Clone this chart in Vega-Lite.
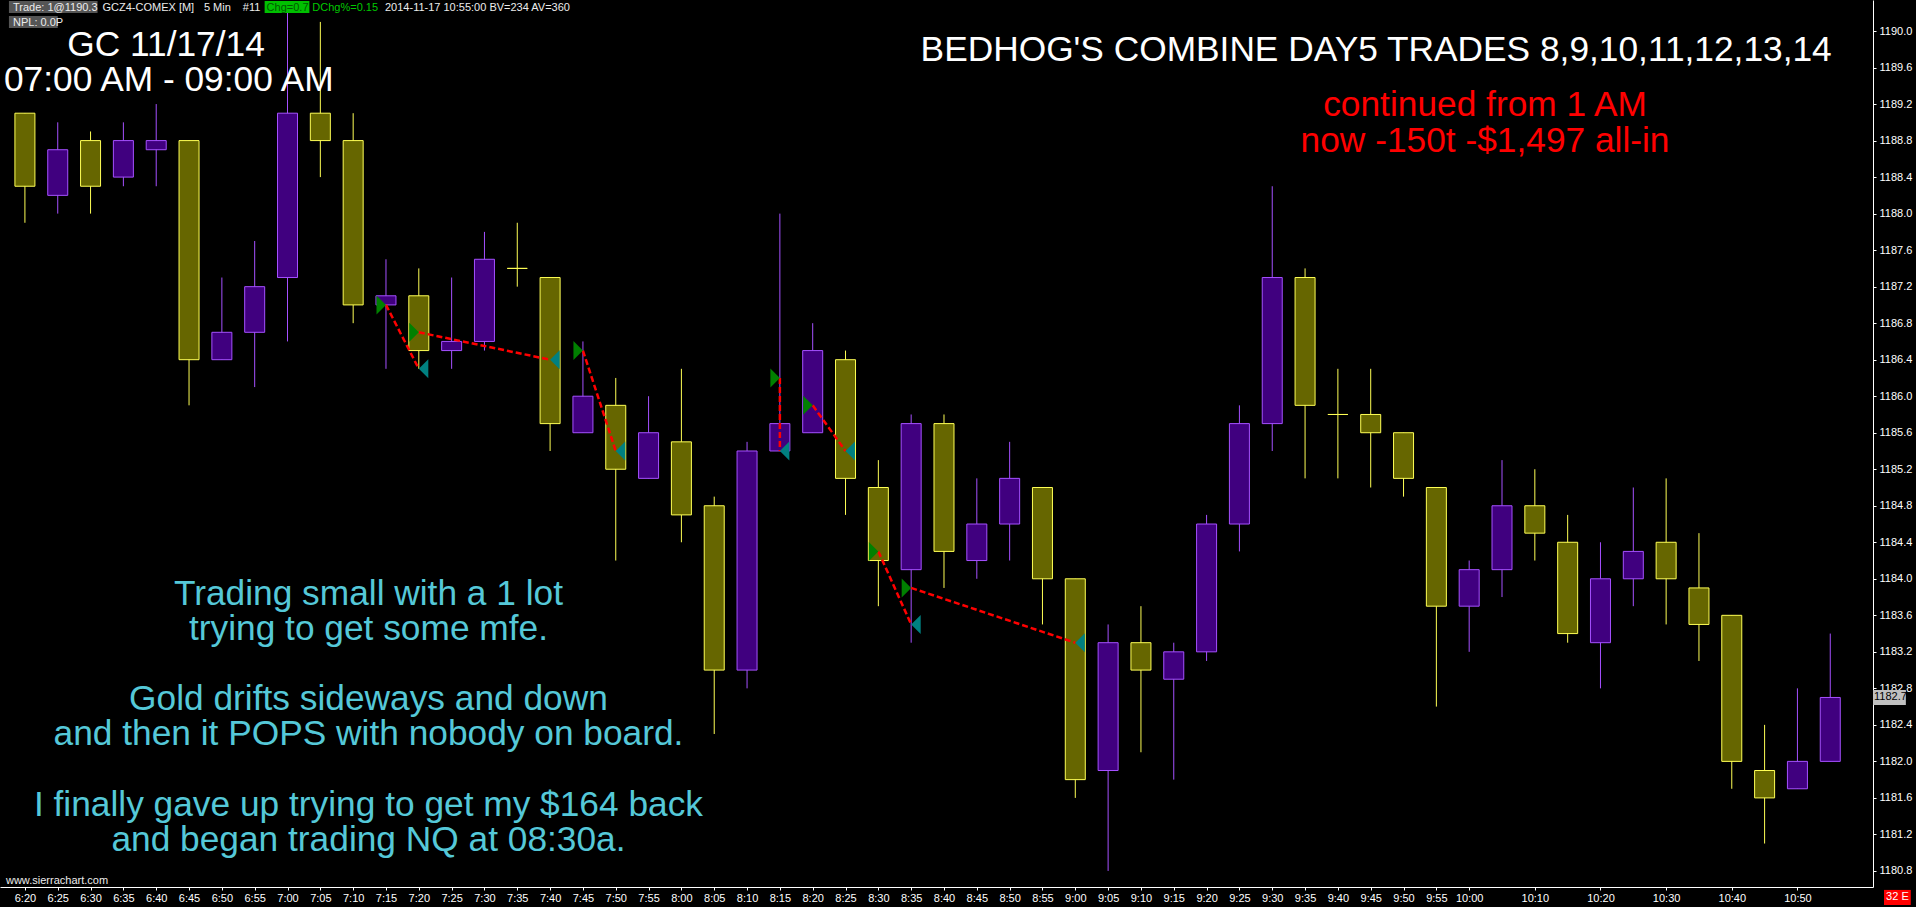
{
  "$schema": "https://vega.github.io/schema/vega-lite/v6.json",
  "width": 1873,
  "height": 887,
  "autosize": {"type": "none"},
  "padding": {"left": 0, "top": 0, "right": 43, "bottom": 20},
  "background": "#000000",
  "config": {
    "view": {"stroke": null},
    "axis": {"grid": false, "labelFont": "Liberation Sans", "labelColor": "#ffffff", "tickColor": "#ffffff", "domainColor": "#ffffff"},
    "text": {"font": "Liberation Sans"}
  },
  "datasets": {
    "candles": [
      {"t": "2014-11-17T06:20:00", "o": 1189.1, "h": 1189.1, "l": 1187.9, "c": 1188.3},
      {"t": "2014-11-17T06:25:00", "o": 1188.2, "h": 1189.0, "l": 1188.0, "c": 1188.7},
      {"t": "2014-11-17T06:30:00", "o": 1188.8, "h": 1188.9, "l": 1188.0, "c": 1188.3},
      {"t": "2014-11-17T06:35:00", "o": 1188.4, "h": 1189.0, "l": 1188.3, "c": 1188.8},
      {"t": "2014-11-17T06:40:00", "o": 1188.7, "h": 1189.2, "l": 1188.3, "c": 1188.8},
      {"t": "2014-11-17T06:45:00", "o": 1188.8, "h": 1188.8, "l": 1185.9, "c": 1186.4},
      {"t": "2014-11-17T06:50:00", "o": 1186.4, "h": 1187.3, "l": 1186.4, "c": 1186.7},
      {"t": "2014-11-17T06:55:00", "o": 1186.7, "h": 1187.7, "l": 1186.1, "c": 1187.2},
      {"t": "2014-11-17T07:00:00", "o": 1187.3, "h": 1190.3, "l": 1186.6, "c": 1189.1},
      {"t": "2014-11-17T07:05:00", "o": 1189.1, "h": 1190.1, "l": 1188.4, "c": 1188.8},
      {"t": "2014-11-17T07:10:00", "o": 1188.8, "h": 1189.1, "l": 1186.8, "c": 1187.0},
      {"t": "2014-11-17T07:15:00", "o": 1187.0, "h": 1187.5, "l": 1186.3, "c": 1187.1},
      {"t": "2014-11-17T07:20:00", "o": 1187.1, "h": 1187.4, "l": 1186.3, "c": 1186.5},
      {"t": "2014-11-17T07:25:00", "o": 1186.5, "h": 1187.3, "l": 1186.3, "c": 1186.6},
      {"t": "2014-11-17T07:30:00", "o": 1186.6, "h": 1187.8, "l": 1186.5, "c": 1187.5},
      {"t": "2014-11-17T07:35:00", "o": 1187.4, "h": 1187.9, "l": 1187.2, "c": 1187.4},
      {"t": "2014-11-17T07:40:00", "o": 1187.3, "h": 1187.3, "l": 1185.4, "c": 1185.7},
      {"t": "2014-11-17T07:45:00", "o": 1185.6, "h": 1186.6, "l": 1185.6, "c": 1186.0},
      {"t": "2014-11-17T07:50:00", "o": 1185.9, "h": 1186.2, "l": 1184.2, "c": 1185.2},
      {"t": "2014-11-17T07:55:00", "o": 1185.1, "h": 1186.0, "l": 1185.1, "c": 1185.6},
      {"t": "2014-11-17T08:00:00", "o": 1185.5, "h": 1186.3, "l": 1184.4, "c": 1184.7},
      {"t": "2014-11-17T08:05:00", "o": 1184.8, "h": 1184.9, "l": 1182.3, "c": 1183.0},
      {"t": "2014-11-17T08:10:00", "o": 1183.0, "h": 1185.5, "l": 1182.8, "c": 1185.4},
      {"t": "2014-11-17T08:15:00", "o": 1185.4, "h": 1188.0, "l": 1185.4, "c": 1185.7},
      {"t": "2014-11-17T08:20:00", "o": 1185.6, "h": 1186.8, "l": 1185.6, "c": 1186.5},
      {"t": "2014-11-17T08:25:00", "o": 1186.4, "h": 1186.5, "l": 1184.7, "c": 1185.1},
      {"t": "2014-11-17T08:30:00", "o": 1185.0, "h": 1185.3, "l": 1183.7, "c": 1184.2},
      {"t": "2014-11-17T08:35:00", "o": 1184.1, "h": 1185.8, "l": 1183.3, "c": 1185.7},
      {"t": "2014-11-17T08:40:00", "o": 1185.7, "h": 1185.8, "l": 1183.9, "c": 1184.3},
      {"t": "2014-11-17T08:45:00", "o": 1184.2, "h": 1185.1, "l": 1184.0, "c": 1184.6},
      {"t": "2014-11-17T08:50:00", "o": 1184.6, "h": 1185.5, "l": 1184.2, "c": 1185.1},
      {"t": "2014-11-17T08:55:00", "o": 1185.0, "h": 1185.0, "l": 1183.5, "c": 1184.0},
      {"t": "2014-11-17T09:00:00", "o": 1184.0, "h": 1184.0, "l": 1181.6, "c": 1181.8},
      {"t": "2014-11-17T09:05:00", "o": 1181.9, "h": 1183.5, "l": 1180.8, "c": 1183.3},
      {"t": "2014-11-17T09:10:00", "o": 1183.3, "h": 1183.7, "l": 1182.1, "c": 1183.0},
      {"t": "2014-11-17T09:15:00", "o": 1182.9, "h": 1183.3, "l": 1181.8, "c": 1183.2},
      {"t": "2014-11-17T09:20:00", "o": 1183.2, "h": 1184.7, "l": 1183.1, "c": 1184.6},
      {"t": "2014-11-17T09:25:00", "o": 1184.6, "h": 1185.9, "l": 1184.3, "c": 1185.7},
      {"t": "2014-11-17T09:30:00", "o": 1185.7, "h": 1188.3, "l": 1185.4, "c": 1187.3},
      {"t": "2014-11-17T09:35:00", "o": 1187.3, "h": 1187.4, "l": 1185.1, "c": 1185.9},
      {"t": "2014-11-17T09:40:00", "o": 1185.8, "h": 1186.3, "l": 1185.1, "c": 1185.8},
      {"t": "2014-11-17T09:45:00", "o": 1185.8, "h": 1186.3, "l": 1185.0, "c": 1185.6},
      {"t": "2014-11-17T09:50:00", "o": 1185.6, "h": 1185.6, "l": 1184.9, "c": 1185.1},
      {"t": "2014-11-17T09:55:00", "o": 1185.0, "h": 1185.0, "l": 1182.6, "c": 1183.7},
      {"t": "2014-11-17T10:00:00", "o": 1183.7, "h": 1184.2, "l": 1183.2, "c": 1184.1},
      {"t": "2014-11-17T10:05:00", "o": 1184.1, "h": 1185.3, "l": 1183.8, "c": 1184.8},
      {"t": "2014-11-17T10:10:00", "o": 1184.8, "h": 1185.2, "l": 1184.2, "c": 1184.5},
      {"t": "2014-11-17T10:15:00", "o": 1184.4, "h": 1184.7, "l": 1183.3, "c": 1183.4},
      {"t": "2014-11-17T10:20:00", "o": 1183.3, "h": 1184.4, "l": 1182.8, "c": 1184.0},
      {"t": "2014-11-17T10:25:00", "o": 1184.0, "h": 1185.0, "l": 1183.7, "c": 1184.3},
      {"t": "2014-11-17T10:30:00", "o": 1184.4, "h": 1185.1, "l": 1183.5, "c": 1184.0},
      {"t": "2014-11-17T10:35:00", "o": 1183.9, "h": 1184.5, "l": 1183.1, "c": 1183.5},
      {"t": "2014-11-17T10:40:00", "o": 1183.6, "h": 1183.6, "l": 1181.7, "c": 1182.0},
      {"t": "2014-11-17T10:45:00", "o": 1181.9, "h": 1182.4, "l": 1181.1, "c": 1181.6},
      {"t": "2014-11-17T10:50:00", "o": 1181.7, "h": 1182.8, "l": 1181.7, "c": 1182.0},
      {"t": "2014-11-17T10:55:00", "o": 1182.0, "h": 1183.4, "l": 1182.0, "c": 1182.7}
    ],
    "trades": [
      {"trade": 8, "kind": "entry", "t": "2014-11-17T07:15:00", "p": 1187.0},
      {"trade": 8, "kind": "exit", "t": "2014-11-17T07:20:00", "p": 1186.3},
      {"trade": 9, "kind": "entry", "t": "2014-11-17T07:20:00", "p": 1186.7},
      {"trade": 9, "kind": "exit", "t": "2014-11-17T07:40:00", "p": 1186.4},
      {"trade": 10, "kind": "entry", "t": "2014-11-17T07:45:00", "p": 1186.5},
      {"trade": 10, "kind": "exit", "t": "2014-11-17T07:50:00", "p": 1185.4},
      {"trade": 11, "kind": "entry", "t": "2014-11-17T08:15:00", "p": 1186.2},
      {"trade": 11, "kind": "exit", "t": "2014-11-17T08:15:00", "p": 1185.4},
      {"trade": 12, "kind": "entry", "t": "2014-11-17T08:20:00", "p": 1185.9},
      {"trade": 12, "kind": "exit", "t": "2014-11-17T08:25:00", "p": 1185.4},
      {"trade": 13, "kind": "entry", "t": "2014-11-17T08:30:00", "p": 1184.3},
      {"trade": 13, "kind": "exit", "t": "2014-11-17T08:35:00", "p": 1183.5},
      {"trade": 14, "kind": "entry", "t": "2014-11-17T08:35:00", "p": 1183.9},
      {"trade": 14, "kind": "exit", "t": "2014-11-17T09:00:00", "p": 1183.3}
    ]
  },
  "encoding": {
    "x": {"field": "t", "type": "temporal",
      "scale": {"domain": [{"year": 2014, "month": 11, "date": 17, "hours": 6, "minutes": 16, "seconds": 58}, {"year": 2014, "month": 11, "date": 17, "hours": 11, "minutes": 0, "seconds": 45}], "nice": false},
      "axis": {"title": null, "orient": "bottom", "format": "%-H:%M",
        "values": [
          {"year": 2014, "month": 11, "date": 17, "hours": 6, "minutes": 20},
          {"year": 2014, "month": 11, "date": 17, "hours": 6, "minutes": 25},
          {"year": 2014, "month": 11, "date": 17, "hours": 6, "minutes": 30},
          {"year": 2014, "month": 11, "date": 17, "hours": 6, "minutes": 35},
          {"year": 2014, "month": 11, "date": 17, "hours": 6, "minutes": 40},
          {"year": 2014, "month": 11, "date": 17, "hours": 6, "minutes": 45},
          {"year": 2014, "month": 11, "date": 17, "hours": 6, "minutes": 50},
          {"year": 2014, "month": 11, "date": 17, "hours": 6, "minutes": 55},
          {"year": 2014, "month": 11, "date": 17, "hours": 7, "minutes": 0},
          {"year": 2014, "month": 11, "date": 17, "hours": 7, "minutes": 5},
          {"year": 2014, "month": 11, "date": 17, "hours": 7, "minutes": 10},
          {"year": 2014, "month": 11, "date": 17, "hours": 7, "minutes": 15},
          {"year": 2014, "month": 11, "date": 17, "hours": 7, "minutes": 20},
          {"year": 2014, "month": 11, "date": 17, "hours": 7, "minutes": 25},
          {"year": 2014, "month": 11, "date": 17, "hours": 7, "minutes": 30},
          {"year": 2014, "month": 11, "date": 17, "hours": 7, "minutes": 35},
          {"year": 2014, "month": 11, "date": 17, "hours": 7, "minutes": 40},
          {"year": 2014, "month": 11, "date": 17, "hours": 7, "minutes": 45},
          {"year": 2014, "month": 11, "date": 17, "hours": 7, "minutes": 50},
          {"year": 2014, "month": 11, "date": 17, "hours": 7, "minutes": 55},
          {"year": 2014, "month": 11, "date": 17, "hours": 8, "minutes": 0},
          {"year": 2014, "month": 11, "date": 17, "hours": 8, "minutes": 5},
          {"year": 2014, "month": 11, "date": 17, "hours": 8, "minutes": 10},
          {"year": 2014, "month": 11, "date": 17, "hours": 8, "minutes": 15},
          {"year": 2014, "month": 11, "date": 17, "hours": 8, "minutes": 20},
          {"year": 2014, "month": 11, "date": 17, "hours": 8, "minutes": 25},
          {"year": 2014, "month": 11, "date": 17, "hours": 8, "minutes": 30},
          {"year": 2014, "month": 11, "date": 17, "hours": 8, "minutes": 35},
          {"year": 2014, "month": 11, "date": 17, "hours": 8, "minutes": 40},
          {"year": 2014, "month": 11, "date": 17, "hours": 8, "minutes": 45},
          {"year": 2014, "month": 11, "date": 17, "hours": 8, "minutes": 50},
          {"year": 2014, "month": 11, "date": 17, "hours": 8, "minutes": 55},
          {"year": 2014, "month": 11, "date": 17, "hours": 9, "minutes": 0},
          {"year": 2014, "month": 11, "date": 17, "hours": 9, "minutes": 5},
          {"year": 2014, "month": 11, "date": 17, "hours": 9, "minutes": 10},
          {"year": 2014, "month": 11, "date": 17, "hours": 9, "minutes": 15},
          {"year": 2014, "month": 11, "date": 17, "hours": 9, "minutes": 20},
          {"year": 2014, "month": 11, "date": 17, "hours": 9, "minutes": 25},
          {"year": 2014, "month": 11, "date": 17, "hours": 9, "minutes": 30},
          {"year": 2014, "month": 11, "date": 17, "hours": 9, "minutes": 35},
          {"year": 2014, "month": 11, "date": 17, "hours": 9, "minutes": 40},
          {"year": 2014, "month": 11, "date": 17, "hours": 9, "minutes": 45},
          {"year": 2014, "month": 11, "date": 17, "hours": 9, "minutes": 50},
          {"year": 2014, "month": 11, "date": 17, "hours": 9, "minutes": 55},
          {"year": 2014, "month": 11, "date": 17, "hours": 10, "minutes": 0},
          {"year": 2014, "month": 11, "date": 17, "hours": 10, "minutes": 10},
          {"year": 2014, "month": 11, "date": 17, "hours": 10, "minutes": 20},
          {"year": 2014, "month": 11, "date": 17, "hours": 10, "minutes": 30},
          {"year": 2014, "month": 11, "date": 17, "hours": 10, "minutes": 40},
          {"year": 2014, "month": 11, "date": 17, "hours": 10, "minutes": 50}
        ],
        "tickSize": 3, "labelPadding": 2, "labelFontSize": 11, "labelOverlap": false, "labelFlush": false, "labelBound": false, "domainWidth": 1}},
    "y": {"field": "p", "type": "quantitative",
      "scale": {"domain": [1180.624, 1190.34], "nice": false, "zero": false},
      "axis": {"title": null, "orient": "right", "values": [1180.8, 1181.2, 1181.6, 1182.0, 1182.4, 1182.8, 1183.2, 1183.6, 1184.0, 1184.4, 1184.8, 1185.2, 1185.6, 1186.0, 1186.4, 1186.8, 1187.2, 1187.6, 1188.0, 1188.4, 1188.8, 1189.2, 1189.6, 1190.0], "format": ".1f", "tickSize": 3, "labelPadding": 3, "labelFontSize": 11, "labelOverlap": false, "labelFlush": false, "labelBound": false, "domainWidth": 1}}
  },
  "layer": [
    {
      "data": {"name": "candles"},
      "mark": {"type": "rule", "strokeWidth": 1},
      "encoding": {
        "y": {"field": "l", "type": "quantitative",
          "scale": {"domain": [1180.624, 1190.34], "nice": false, "zero": false},
          "axis": {"title": null, "orient": "right", "values": [1180.8, 1181.2, 1181.6, 1182.0, 1182.4, 1182.8, 1183.2, 1183.6, 1184.0, 1184.4, 1184.8, 1185.2, 1185.6, 1186.0, 1186.4, 1186.8, 1187.2, 1187.6, 1188.0, 1188.4, 1188.8, 1189.2, 1189.6, 1190.0], "format": ".1f", "tickSize": 3, "labelPadding": 3, "labelFontSize": 11, "labelOverlap": false, "labelFlush": false, "labelBound": false, "domainWidth": 1}},
        "y2": {"field": "h"},
        "color": {"condition": {"test": "datum.c > datum.o", "value": "#a550ff"}, "value": "#ffff55"}
      }
    },
    {
      "data": {"name": "candles"},
      "mark": {"type": "bar", "size": 20, "strokeWidth": 1},
      "encoding": {
        "y": {"field": "o", "type": "quantitative",
          "scale": {"domain": [1180.624, 1190.34], "nice": false, "zero": false},
          "axis": {"title": null, "orient": "right", "values": [1180.8, 1181.2, 1181.6, 1182.0, 1182.4, 1182.8, 1183.2, 1183.6, 1184.0, 1184.4, 1184.8, 1185.2, 1185.6, 1186.0, 1186.4, 1186.8, 1187.2, 1187.6, 1188.0, 1188.4, 1188.8, 1189.2, 1189.6, 1190.0], "format": ".1f", "tickSize": 3, "labelPadding": 3, "labelFontSize": 11, "labelOverlap": false, "labelFlush": false, "labelBound": false, "domainWidth": 1}},
        "y2": {"field": "c"},
        "fill": {"condition": {"test": "datum.c > datum.o", "value": "#40007f"}, "value": "#666600"},
        "stroke": {"condition": {"test": "datum.c > datum.o", "value": "#a550ff"}, "value": "#ffff55"}
      }
    },
    {
      "data": {"name": "trades"},
      "mark": {"type": "line", "color": "#ff0000", "strokeWidth": 2.5, "strokeDash": [6, 3]},
      "encoding": {
        "detail": {"field": "trade", "type": "nominal"}
      }
    },
    {
      "data": {"name": "trades"},
      "mark": {"type": "point", "filled": true, "opacity": 1, "size": 361, "strokeWidth": 0},
      "encoding": {
        "shape": {"field": "kind", "type": "nominal", "scale": {"domain": ["entry", "exit"], "range": ["M-1,-1L0,0L-1,1Z", "M1,-1L0,0L1,1Z"]}, "legend": null},
        "color": {"field": "kind", "type": "nominal", "scale": {"domain": ["entry", "exit"], "range": ["#008000", "#008080"]}, "legend": null}
      }
    },
    {
      "data": {"values": [
        {"t": "2014-11-17T06:17:34", "t2": "2014-11-17T06:31:04", "p": 1190.329, "p2": 1190.197},
        {"t": "2014-11-17T06:17:34", "t2": "2014-11-17T06:25:00", "p": 1190.164, "p2": 1190.033}
      ]},
      "mark": {"type": "rect", "color": "#555555"},
      "encoding": {"x2": {"field": "t2"}, "y2": {"field": "p2"}}
    },
    {
      "data": {"values": [
        {"t": "2014-11-17T06:56:31", "t2": "2014-11-17T07:03:20", "p": 1190.329, "p2": 1190.197}
      ]},
      "mark": {"type": "rect", "color": "#00c000"},
      "encoding": {"x2": {"field": "t2"}, "y2": {"field": "p2"}}
    },
    {
      "data": {"values": [
        {"t": "2014-11-17T06:18:11", "p": 1190.219, "text": "Trade: 1@1190.3"},
        {"t": "2014-11-17T06:31:49", "p": 1190.219, "text": "GCZ4-COMEX [M]"},
        {"t": "2014-11-17T06:47:16", "p": 1190.219, "text": "5 Min"},
        {"t": "2014-11-17T06:53:11", "p": 1190.219, "text": "#11"},
        {"t": "2014-11-17T07:14:51", "p": 1190.219, "text": "2014-11-17 10:55:00 BV=234 AV=360"},
        {"t": "2014-11-17T06:18:11", "p": 1190.06, "text": "NPL: 0.0P"},
        {"t": "2014-11-17T06:17:07", "p": 1180.657, "text": "www.sierrachart.com"}
      ]},
      "mark": {"type": "text", "align": "left", "baseline": "alphabetic", "fontSize": 11, "color": "#ececec"},
      "encoding": {"text": {"field": "text"}}
    },
    {
      "data": {"values": [
        {"t": "2014-11-17T06:56:49", "p": 1190.219, "text": "Chg=0.7"}
      ]},
      "mark": {"type": "text", "align": "left", "baseline": "alphabetic", "fontSize": 11, "color": "#005a00"},
      "encoding": {"text": {"field": "text"}}
    },
    {
      "data": {"values": [
        {"t": "2014-11-17T07:03:47", "p": 1190.219, "text": "DChg%=0.15"}
      ]},
      "mark": {"type": "text", "align": "left", "baseline": "alphabetic", "fontSize": 11, "color": "#00c800"},
      "encoding": {"text": {"field": "text"}}
    },
    {
      "data": {"values": [
        {"t": "2014-11-17T06:41:30", "p": 1189.726, "text": "GC 11/17/14"},
        {"t": "2014-11-17T06:41:55", "p": 1189.343, "text": "07:00 AM - 09:00 AM"},
        {"t": "2014-11-17T09:45:50", "p": 1189.671, "text": "BEDHOG'S COMBINE DAY5 TRADES 8,9,10,11,12,13,14"}
      ]},
      "mark": {"type": "text", "align": "center", "baseline": "alphabetic", "fontSize": 35.3, "color": "#ffffff"},
      "encoding": {"text": {"field": "text"}}
    },
    {
      "data": {"values": [
        {"t": "2014-11-17T10:02:25", "p": 1189.069, "text": "continued from 1 AM"},
        {"t": "2014-11-17T10:02:25", "p": 1188.675, "text": "now -150t -$1,497 all-in"}
      ]},
      "mark": {"type": "text", "align": "center", "baseline": "alphabetic", "fontSize": 35.3, "color": "#ff0000"},
      "encoding": {"text": {"field": "text"}}
    },
    {
      "data": {"values": [
        {"t": "2014-11-17T07:12:20", "p": 1183.711, "text": "Trading small with a 1 lot"},
        {"t": "2014-11-17T07:12:20", "p": 1183.327, "text": "trying to get some mfe."},
        {"t": "2014-11-17T07:12:20", "p": 1182.56, "text": "Gold drifts sideways and down"},
        {"t": "2014-11-17T07:12:20", "p": 1182.174, "text": "and then it POPS with nobody on board."},
        {"t": "2014-11-17T07:12:20", "p": 1181.407, "text": "I finally gave up trying to get my $164 back"},
        {"t": "2014-11-17T07:12:20", "p": 1181.021, "text": "and began trading NQ at 08:30a."}
      ]},
      "mark": {"type": "text", "align": "center", "baseline": "alphabetic", "fontSize": 35.3, "color": "#55c8d8"},
      "encoding": {"text": {"field": "text"}}
    },
    {
      "data": {"values": [
        {"t": "2014-11-17T11:01:31", "t2": "2014-11-17T11:06:31", "p": 1182.782, "p2": 1182.618}
      ]},
      "mark": {"type": "rect", "color": "#c0c0c0"},
      "encoding": {"x2": {"field": "t2"}, "y2": {"field": "p2"}}
    },
    {
      "data": {"values": [
        {"t": "2014-11-17T11:01:40", "p": 1182.7, "text": "1182.7"}
      ]},
      "mark": {"type": "text", "align": "left", "baseline": "middle", "fontSize": 11, "color": "#000000"},
      "encoding": {"text": {"field": "text"}}
    },
    {
      "data": {"values": [
        {"t": "2014-11-17T11:03:11", "t2": "2014-11-17T11:07:16", "p": 1180.592, "p2": 1180.427}
      ]},
      "mark": {"type": "rect", "color": "#ff0000"},
      "encoding": {"x2": {"field": "t2"}, "y2": {"field": "p2"}}
    },
    {
      "data": {"values": [
        {"t": "2014-11-17T11:05:14", "p": 1180.509, "text": "32 E"}
      ]},
      "mark": {"type": "text", "align": "center", "baseline": "middle", "fontSize": 11, "color": "#ffffff"},
      "encoding": {"text": {"field": "text"}}
    }
  ]
}
